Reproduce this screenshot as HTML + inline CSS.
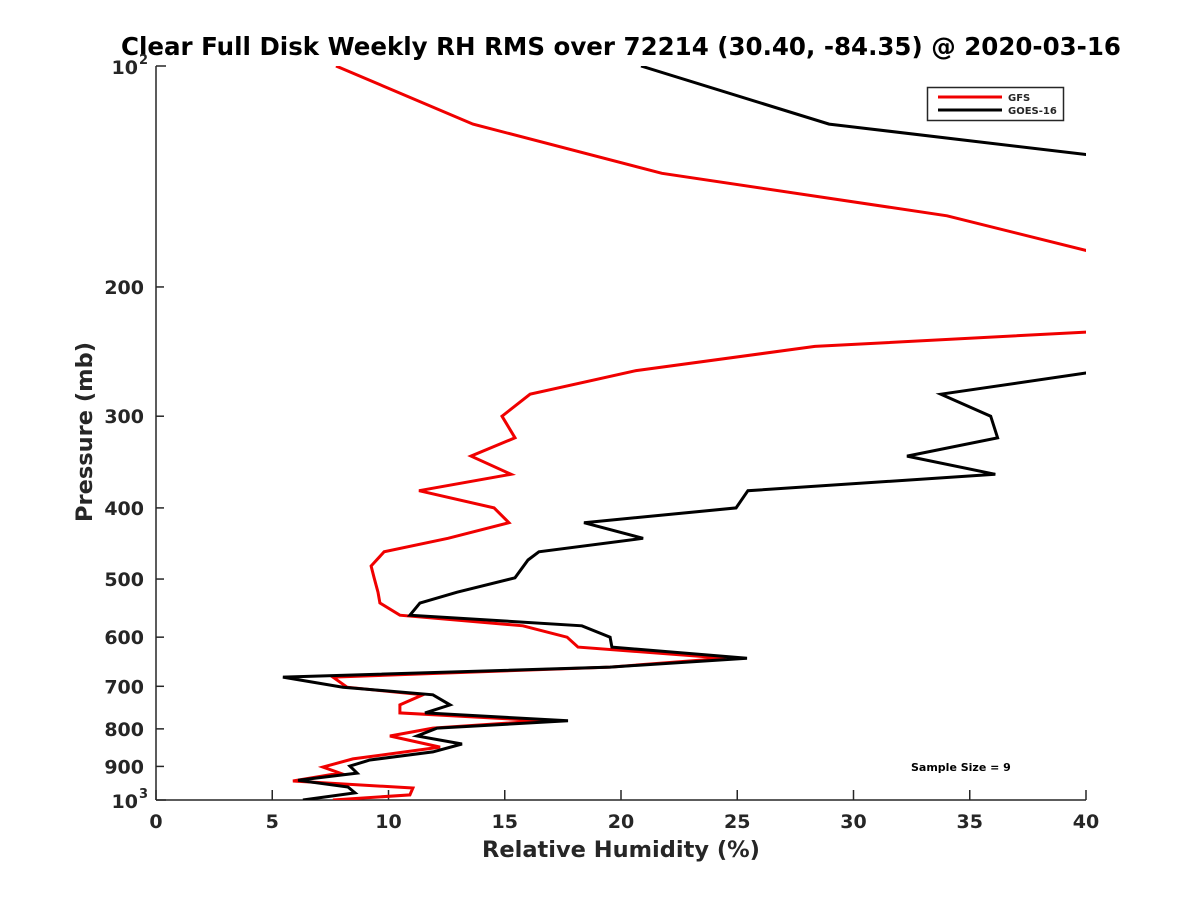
<!DOCTYPE html>
<html><head><meta charset="utf-8"><style>
html,body{margin:0;padding:0;background:#fff;}
svg{display:block;font-family:"DejaVu Sans","Liberation Sans",sans-serif;font-weight:bold;}
</style></head><body>
<svg id="chart" width="1200" height="900" xmlns="http://www.w3.org/2000/svg">
<defs><clipPath id="plotclip"><rect x="156" y="66" width="930" height="734"/></clipPath></defs>
<rect x="0" y="0" width="1200" height="900" fill="#fff"/>
<text x="621" y="55" text-anchor="middle" font-size="24.5" fill="#000">Clear Full Disk Weekly RH RMS over 72214 (30.40, -84.35) @ 2020-03-16</text>
<g id="axes"></g>
<g id="series" clip-path="url(#plotclip)"></g>
<text x="621" y="857" text-anchor="middle" font-size="22.5" fill="#262626">Relative Humidity (%)</text>
<text transform="translate(92,432) rotate(-90)" text-anchor="middle" font-size="22.5" fill="#262626">Pressure (mb)</text>
<g>
<rect x="927.5" y="87.5" width="136" height="33" fill="#fff" stroke="#262626" stroke-width="1.5"/>
<line x1="938" y1="97" x2="1002" y2="97" stroke="#f00000" stroke-width="3"/>
<text x="1008" y="101" font-size="10" fill="#262626">GFS</text>
<line x1="938" y1="110" x2="1002" y2="110" stroke="#000" stroke-width="3"/>
<text x="1008" y="114" font-size="10" fill="#262626">GOES-16</text>
</g>
<text x="911" y="771" font-size="11" fill="#000">Sample Size = 9</text>
</svg>
<script>
const gfsP  = [100,120,140,160,179,200,230,241,260,280,300,321,340,360,379,400,419,440,459,480,498,521,539,560,579,600,619,641,659,680,702,719,742,761,780,798,818,847,879,902,919,942,963,984,1000];
const gfsRH = [7.74,13.63,21.76,34.02,40.2,55,40.5,28.34,20.65,16.09,14.88,15.44,13.55,15.27,11.31,14.54,15.18,12.56,9.81,9.25,9.38,9.55,9.63,10.49,15.78,17.68,18.15,24.5,19.53,7.61,8.22,11.48,10.49,10.49,16.65,11.91,10.06,12.22,8.47,7.18,7.91,5.89,11.05,10.92,7.61];
const goesP  = [100,120,132,140,240,262,280,300,321,340,360,379,400,419,440,459,471,498,521,539,560,579,600,619,641,659,680,702,719,742,761,780,798,818,839,860,882,899,919,940,960,978,1000];
const goesRH = [20.86,28.95,40,50,50,40,33.76,35.9,36.2,32.3,36.1,25.46,24.95,18.41,20.95,16.47,16.0,15.44,12.95,11.35,10.92,18.32,19.53,19.61,25.42,19.53,5.46,8.04,11.91,12.65,11.57,17.72,12.09,11.23,13.16,11.91,9.2,8.34,8.65,6.11,8.26,8.56,6.32];
const xTicks = [0,5,10,15,20,25,30,35,40];
const yTicks = [200,300,400,500,600,700,800,900];

const NS="http://www.w3.org/2000/svg";
const X0=156,X1=1086,Y0=66,Y1=800;
function xs(v){return X0+(v-0)/(40-0)*(X1-X0);}
function ys(p){return Y0+Math.log10(p/100)*(Y1-Y0);}
function mk(tag,attrs,parent){const e=document.createElementNS(NS,tag);for(const k in attrs)e.setAttribute(k,attrs[k]);parent.appendChild(e);return e;}
const axes=document.getElementById('axes');
const series=document.getElementById('series');
const C="#262626";
let l=mk('line',{x1:X0,y1:Y0,x2:X0,y2:Y1,stroke:C,'stroke-width':1.5},axes);


l=mk('line',{x1:X0,y1:Y1,x2:X1,y2:Y1,stroke:C,'stroke-width':1.5},axes);


xTicks.forEach(v=>{
  const t=mk('line',{x1:xs(v),y1:Y1,x2:xs(v),y2:Y1-10,stroke:C,'stroke-width':1.5},axes);
  
  
  const tx=mk('text',{x:xs(v),y:Y1+28,'text-anchor':'middle','font-size':19,fill:C},axes);
  tx.textContent=v;
  
  
});
[100,1000].forEach((p,i)=>{
  const t=mk('line',{x1:X0,y1:ys(p),x2:X0+10,y2:ys(p),stroke:C,'stroke-width':1.5},axes);
  
  
  const tx=mk('text',{x:X0-18,y:ys(p)+8,'text-anchor':'end','font-size':19,fill:C},axes);
  tx.textContent='10';
  
  
  const sp=mk('text',{x:X0-17,y:ys(p)-2,'text-anchor':'start','font-size':13,fill:C},axes);
  sp.textContent=i===0?'2':'3';
  
  
});
yTicks.forEach(p=>{
  const t=mk('line',{x1:X0,y1:ys(p),x2:X0+8,y2:ys(p),stroke:C,'stroke-width':1.5},axes);
  
  
  const tx=mk('text',{x:X0-12,y:ys(p)+7,'text-anchor':'end','font-size':19,fill:C},axes);
  tx.textContent=p;
  
  
});
function line(P,V,color,name){
  const pts=P.map((p,i)=>xs(V[i]).toFixed(1)+','+ys(p).toFixed(1)).join(' ');
  const pl=mk('polyline',{points:pts,fill:'none',stroke:color,'stroke-width':3,'stroke-linejoin':'miter'},series);
  
  
}
line(gfsP,gfsRH,'#f00000','gfs-line');
line(goesP,goesRH,'#000','goes16-line');
</script>
</body></html>
